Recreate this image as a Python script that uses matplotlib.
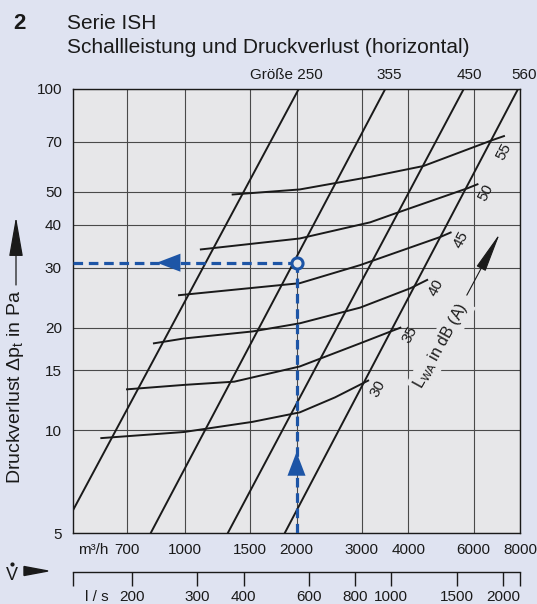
import numpy as np
import matplotlib.pyplot as plt
from matplotlib.patches import Polygon
from matplotlib.lines import Line2D
from matplotlib.ticker import NullLocator

plt.rcParams['font.family'] = ['Liberation Sans', 'DejaVu Sans']
plt.rcParams['mathtext.fontset'] = 'custom'
plt.rcParams['mathtext.rm'] = 'Liberation Sans'
plt.rcParams['mathtext.it'] = 'Liberation Sans:italic'

# --- data (flow in m3/h, pressure loss in Pa) ---
sizes = ['250', '355', '450', '560']
size_flow = [[500, 2028], [809, 3468], [1305, 5643], [1858, 7904]]
size_dp = [[5.84, 100], [5, 100], [5, 100], [5, 100]]

lwa_levels = [30, 35, 40, 45, 50, 55]
lwa_flow = [
    [596, 996, 1522, 2041, 2539, 3119],
    [699, 996, 1360, 2041, 2968, 3809],
    [826, 996, 1522, 2041, 2968, 4055, 4498],
    [965, 2041, 2968, 4889, 5203],
    [1105, 2041, 3159, 3731, 5775, 6145],
    [1346, 2041, 3159, 4397, 6750, 7243],
]
lwa_dp = [
    [9.5, 9.9, 10.6, 11.3, 12.5, 14.0],
    [13.2, 13.6, 13.9, 15.4, 18.0, 20.0],
    [18.0, 18.6, 19.5, 20.6, 22.9, 26.1, 27.6],
    [24.9, 27.0, 30.5, 36.9, 38.0],
    [33.9, 36.5, 40.7, 43.4, 51.2, 52.6],
    [49.1, 50.8, 55.3, 59.5, 70.9, 72.8],
]

# worked example
example_flow = 2000
example_dp = 31

x_ticks = [700, 1000, 1500, 2000, 3000, 4000, 6000, 8000]
y_ticks = [5, 10, 15, 20, 30, 40, 50, 70, 100]
ls_ticks = [200, 300, 400, 600, 800, 1000, 1500, 2000]

W, H = 537, 604
fig_bg = '#dfe3f1'
ax_bg = '#e7e7e9'
blue = '#1d55a6'


def fx(px):
    return px / W


def fy(py):
    return 1 - py / H


fig = plt.figure(figsize=(W / 100, H / 100), dpi=100, facecolor=fig_bg)
ax = fig.add_axes([fx(73), fy(533.3), 447 / W, 444.3 / H])
ax.set_facecolor(ax_bg)
ax.set_xscale('log')
ax.set_yscale('log')
ax.set_xlim(500, 8000)
ax.set_ylim(5, 100)
ax.xaxis.set_minor_locator(NullLocator())
ax.yaxis.set_minor_locator(NullLocator())
ax.set_xticks(x_ticks)
ax.set_xticklabels([str(v) for v in x_ticks])
ax.set_yticks(y_ticks)
ax.set_yticklabels([str(v) for v in y_ticks])
ax.tick_params(length=0, labelsize=11, colors='#1a1a1a')
ax.tick_params(axis='x', pad=7)
ax.tick_params(axis='y', pad=8)
ax.grid(True, color='#4a4a4a', lw=0.8)
ax.set_axisbelow(True)
for s in ax.spines.values():
    s.set_color('#1a1a1a')
    s.set_linewidth(1.0)

# size lines
for name, fl, dp in zip(sizes, size_flow, size_dp):
    ax.plot(fl, dp, color='#1a1a1a', lw=1.4, solid_capstyle='butt')

# size labels above the top edge
size_dx = {'250': 24, '355': 4, '450': 6, '560': 6}
for name, fl in zip(sizes, size_flow):
    txt = 'Größe ' + name if name == '250' else name
    ax.annotate(txt, xy=(fl[1], 100), xytext=(size_dx[name] * 0.72, 14 * 0.72),
                textcoords='offset points', ha='right' if name == '250' else 'center',
                va='center', fontsize=11, color='#1a1a1a', annotation_clip=False)

# sound power curves
lab_off = {30: (10, 8), 35: (10, 7), 40: (9, 8), 45: (10, 7), 50: (8, 8), 55: (0, 16)}
for lv, fl, dp in zip(lwa_levels, lwa_flow, lwa_dp):
    ax.plot(fl, dp, color='#1a1a1a', lw=1.4)
    dx, dy = lab_off[lv]
    ax.annotate(str(lv), xy=(fl[-1], dp[-1]), xytext=(dx * 0.72, -dy * 0.72),
                textcoords='offset points', ha='center', va='center',
                rotation=62, fontsize=11, color='#1a1a1a')

ax.text(0.823, 0.422, r'$\mathregular{L_{WA}}$ in dB (A)', transform=ax.transAxes,
        rotation=61, ha='center', va='center', fontsize=11.5, color='#1a1a1a',
        bbox=dict(facecolor=ax_bg, edgecolor='none', pad=2))
ax.annotate('', xy=(0.955, 0.675), xytext=(0.881, 0.536), xycoords='axes fraction',
            arrowprops=dict(arrowstyle='-|>,head_length=1.4,head_width=0.18',
                            mutation_scale=18, lw=0.8, color='#1a1a1a',
                            shrinkA=0, shrinkB=0))

# worked example (blue)
ax.plot([example_flow, example_flow], [5, example_dp], color=blue, lw=2.3,
        ls=(0, (3, 1.8)), zorder=5)
ax.plot([500, example_flow], [example_dp, example_dp], color=blue, lw=2.3,
        ls=(0, (3, 1.8)), zorder=5)
ax.plot([example_flow], [example_dp], 'o', ms=8, mfc=ax_bg, mec=blue, mew=2.2, zorder=6)
v_tip = 5 * (example_dp / 5) ** 0.30
h_tip = 500 * (example_flow / 500) ** 0.375
arr = dict(arrowstyle='-|>,head_length=17,head_width=6.5', mutation_scale=1,
           color=blue, lw=0, shrinkA=0, shrinkB=0)
ax.annotate('', xy=(example_flow, v_tip), xytext=(0, -18), textcoords='offset points',
            arrowprops=arr, zorder=7)
ax.annotate('', xy=(h_tip, example_dp), xytext=(18, 0), textcoords='offset points',
            arrowprops=arr, zorder=7)

# second flow scale in l/s
ax2 = fig.add_axes([fx(73), fy(581.7), 447 / W, 10 / H])
ax2.set_facecolor('none')
ax2.set_xscale('log')
ax2.set_xlim(500, 8000)
ax2.xaxis.set_minor_locator(NullLocator())
ax2.set_xticks([500] + [v * 3.6 for v in ls_ticks] + [8000])
ax2.set_xticklabels([''] + [str(v) for v in ls_ticks] + [''])
ax2.set_yticks([])
for k in ['left', 'right', 'bottom']:
    ax2.spines[k].set_visible(False)
ax2.spines['top'].set_linewidth(1.0)
ax2.spines['top'].set_color('#1a1a1a')
ax2.tick_params(axis='x', top=True, bottom=False, direction='in', length=10,
                width=1.0, labeltop=False, labelbottom=True, pad=6, labelsize=11,
                colors='#1a1a1a')

# titles and annotations around the chart
fig.text(fx(13), fy(29.3), '2', fontsize=16, fontweight='bold', va='baseline', color='#1a1a1a')
fig.text(fx(66.7), fy(29.3), 'Serie ISH', fontsize=15, va='baseline', color='#1a1a1a')
fig.text(fx(66.7), fy(53.3), 'Schallleistung und Druckverlust (horizontal)', fontsize=15,
         va='baseline', color='#1a1a1a')

fig.text(fx(78), fy(550), 'm³/h', fontsize=11, va='center', ha='left', color='#1a1a1a')
fig.text(fx(85), fy(597), 'l / s', fontsize=11, va='center', ha='left', color='#1a1a1a')

fig.text(fx(12), fy(576), 'V', fontsize=13, va='center', ha='center', color='#1a1a1a')
fig.add_artist(Line2D([fx(12)], [fy(564)], marker='o', ms=2, color='#1a1a1a',
                      transform=fig.transFigure))
fig.add_artist(Polygon([[fx(24), fy(566.5)], [fx(48), fy(571)], [fx(24), fy(575.5)]],
                       closed=True, color='#1a1a1a', transform=fig.transFigure))

fig.text(fx(16), fy(387), r'Druckverlust Δp$_\mathregular{t}$ in Pa', fontsize=14,
         rotation=90, ha='center', va='center', color='#1a1a1a')
ax.annotate('', xy=(fx(16), fy(217)), xytext=(fx(16), fy(285)), xycoords='figure fraction',
            arrowprops=dict(arrowstyle='-|>,head_length=1.25,head_width=0.22',
                            mutation_scale=20, lw=0.9, color='#1a1a1a',
                            shrinkA=0, shrinkB=0), annotation_clip=False)

fig.savefig('out.png', dpi=100, facecolor=fig_bg)
